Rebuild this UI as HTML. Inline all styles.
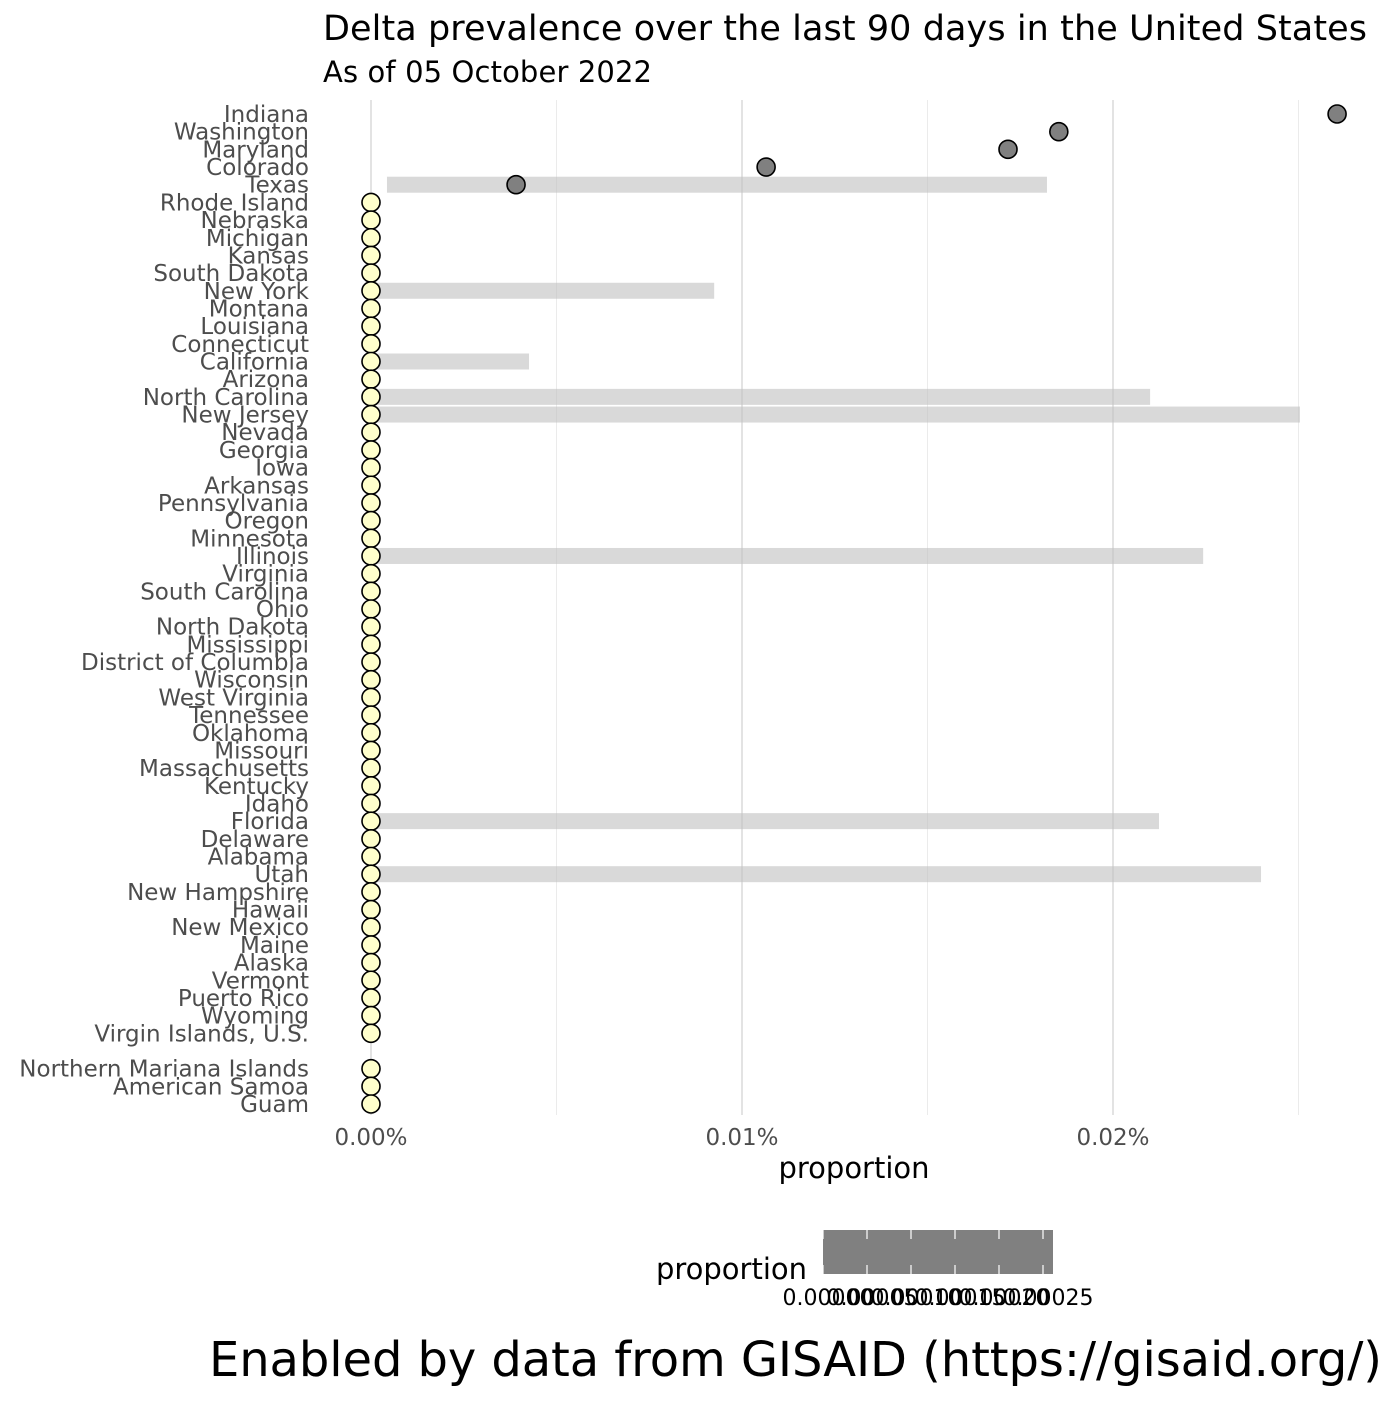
<!DOCTYPE html>
<html><head><meta charset="utf-8"><style>
body{margin:0;background:#fff;}
svg text{font-family:"DejaVu Sans","Liberation Sans",sans-serif;}
</style></head><body>
<svg id="chart" width="1400" height="1400" xmlns="http://www.w3.org/2000/svg">
<text x="323" y="40" font-size="35" textLength="1044" fill="#000">Delta prevalence over the last 90 days in the United States</text>
<text x="323" y="82" font-size="29" textLength="329" fill="#000">As of 05 October 2022</text>
<g id="grid"></g><g id="bars"></g><g id="points"></g><g id="ylabels"></g><g id="xlabels"></g>
<text x="854" y="1178" font-size="29" text-anchor="middle">proportion</text>
<text x="807" y="1279" font-size="29" text-anchor="end">proportion</text>
<rect x="823" y="1230" width="230" height="44" fill="#808080"/>
<g id="legend"></g>
<text x="1382" y="1376" font-size="48" textLength="1173" text-anchor="end">Enabled by data from GISAID (https://gisaid.org/)</text>
</svg>
<script>
const states=["Indiana","Washington","Maryland","Colorado","Texas","Rhode Island","Nebraska","Michigan","Kansas","South Dakota","New York","Montana","Louisiana","Connecticut","California","Arizona","North Carolina","New Jersey","Nevada","Georgia","Iowa","Arkansas","Pennsylvania","Oregon","Minnesota","Illinois","Virginia","South Carolina","Ohio","North Dakota","Mississippi","District of Columbia","Wisconsin","West Virginia","Tennessee","Oklahoma","Missouri","Massachusetts","Kentucky","Idaho","Florida","Delaware","Alabama","Utah","New Hampshire","Hawaii","New Mexico","Maine","Alaska","Vermont","Puerto Rico","Wyoming","Virgin Islands, U.S.","","Northern Mariana Islands","American Samoa","Guam"];
// proportion in percent
const values=[0.02604,0.01854,0.01717,0.01065,0.00391];
const barStates=["Texas","New York","California","North Carolina","New Jersey","Illinois","Florida","Utah"];
const barLower=[0.00043,0,0,0,0,0,0,0];
const barUpper=[0.01822,0.00925,0.00426,0.0210,0.02504,0.02243,0.02124,0.02399];
const xTicks=[0,0.01,0.02];
const xTickLabels=["0.00%","0.01%","0.02%"];
const xMinor=[0.005,0.015,0.025];
const legendTicks=[0,0.00005,0.0001,0.00015,0.0002,0.00025];
const legendLabels=["0.00000","0.00005","0.00010","0.00015","0.00020","0.00025"];
const NS="http://www.w3.org/2000/svg";
const x=v=>371+v*37100;
const y=i=>114+i*(1104-114)/56;
const lx=v=>823+v*880000;
function mk(t,a,p){const e=document.createElementNS(NS,t);for(const k in a)e.setAttribute(k,a[k]);document.getElementById(p).appendChild(e);return e;}
xMinor.forEach(v=>{const e=mk('line',{x1:x(v),x2:x(v),y1:100,y2:1115,stroke:'#ebebeb','stroke-width':1},'grid');

});
xTicks.forEach((v,i)=>{const e=mk('line',{x1:x(v),x2:x(v),y1:100,y2:1115,stroke:'#e3e3e3','stroke-width':2},'grid');


const t=mk('text',{x:x(v),y:1145,'font-size':23,fill:'#4d4d4d','text-anchor':'middle'},'xlabels');t.textContent=xTickLabels[i];

});
barStates.forEach((s,i)=>{const r=states.indexOf(s);const e=mk('rect',{x:x(barLower[i]),y:y(r)-8,width:x(barUpper[i])-x(barLower[i]),height:16,fill:'#bfbfbf','fill-opacity':0.6},'bars');

});
states.forEach((s,i)=>{
const t=mk('text',{x:309,y:y(i)+8,'font-size':23,fill:'#4d4d4d','text-anchor':'end'},'ylabels');t.textContent=s;


if(s==="")return;
const v=i<values.length?values[i]:0;
const c=mk('circle',{cx:x(v),cy:y(i),r:9,fill:v>0?'#808080':'#ffffcc',stroke:'#000','stroke-width':1.6},'points');

});
legendTicks.forEach((v,i)=>{
const a=mk('line',{x1:lx(v),x2:lx(v),y1:1230,y2:1239,stroke:'#fff','stroke-width':1.2},'legend');


const b=mk('line',{x1:lx(v),x2:lx(v),y1:1265,y2:1274,stroke:'#fff','stroke-width':1.2},'legend');


const t=mk('text',{x:lx(v)+5,y:1305,'font-size':22,fill:'#000','text-anchor':'middle'},'legend');t.textContent=legendLabels[i];

});
</script>
</body></html>
